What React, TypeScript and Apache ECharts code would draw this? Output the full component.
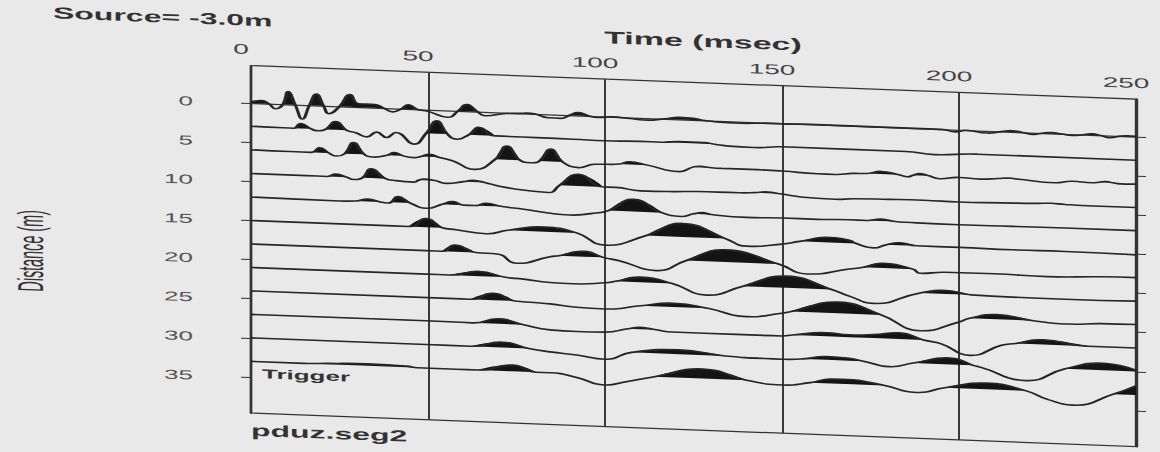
import React, { useEffect, useRef } from "react";
import * as echarts from "echarts";

// ---- data (time in msec, amplitude in metres of trace offset; + = up / filled) ----
const DISTANCES = [0, 3, 6, 9, 12, 15, 18, 21, 24, 27, 30, 33];
const Y_TICKS = [0, 5, 10, 15, 20, 25, 30, 35];
const X_MIN = 0;
const X_MAX = 250;
const X_STEP = 50;
const Y_MIN = -4.8;
const Y_MAX = 39.6;

const TRACE_0 = [[0,0.1],[3,0.38],[5,0],[7,-0.6],[9,0],[10.5,1.66],[12.5,0],[14.5,-1.79],[16.5,0],[18.5,1.49],[20.5,0],[22,-0.98],[25,0],[28,1.57],[30.5,0.45],[35,0.43],[37.5,0],[40,-0.43],[42.5,0],[44.5,0.55],[47,0],[50,-0.2],[55.5,-0.85],[58.5,0],[61,0.85],[64,0],[66,-0.47],[72,-0.1],[76,0],[78,0.06],[80,0],[84,-0.43],[87.5,-0.45],[90,0],[92.5,0.38],[95.5,0],[98,-0.15],[102,0],[107,-0.13],[111,-0.26],[117,0],[121,0.26],[125,0.2],[127.5,0],[131,-0.13],[138,-0.2],[146,-0.08],[150,-0.08],[158,0],[195,0],[199,-0.25],[202,0],[208,-0.25],[212,0],[215,0.17],[218,0],[221,-0.2],[223.5,0],[226,0.13],[229,0],[232,-0.15],[235,0],[237.5,0.17],[240,0],[242.5,-0.25],[245.5,0],[247.5,0.07],[250,0.05]];
const TRACE_1 = [[0,0.05],[9,0],[12,0],[14,0.64],[17,0],[18.5,-0.2],[21,0],[24,1.06],[27,0],[29.5,-0.26],[32.7,-0.75],[35.5,-0.1],[38.3,-0.74],[41,-0.05],[46,-1.45],[49.5,0],[52.5,1.63],[55.5,0],[58,-0.61],[61.5,0],[64.5,1.0],[69,0],[91,-0.05],[100,-0.1],[110,0],[116,0],[121,0.17],[128,0.16],[131,0],[135,-0.18],[142,-0.24],[150,0],[185,0],[193,-0.27],[205,0],[250,0]];
const TRACE_2 = [[0,0.05],[11,0],[17,0],[19.5,0.64],[22,0],[24,-0.34],[26.5,0],[29,1.45],[32,0],[34.5,-0.3],[38.5,0],[40.5,0.37],[43,0],[46,-0.18],[48,0],[50.5,0.33],[53,0],[57,-0.41],[63,-1.38],[69,0],[72.3,1.76],[76,0],[79,-0.26],[81.5,0],[84.7,1.6],[88,0],[92.5,-0.66],[97,-0.15],[100,-0.1],[104,0],[107,0.35],[112,0],[121,-0.68],[125,0],[127,0.1],[129.5,0],[133,-0.05],[141,-0.04],[150,-0.1],[160,-0.28],[165,-0.28],[170,-0.06],[174,0],[178,0.33],[183,0],[185.5,-0.23],[187,0],[189,0.25],[191.5,0],[194.5,-0.32],[200,-0.06],[206,-0.17],[211,0],[214,0.1],[217,0],[227,-0.28],[232,0],[237.5,-0.1],[239.5,0],[241.5,0.14],[243.5,0],[245.5,-0.1],[250,-0.05]];
const TRACE_3 = [[0,0],[15.7,0],[21.5,0],[24,0.34],[27,0],[29,-0.26],[31.5,0],[34,1.19],[38,0],[41,-0.2],[46,-0.3],[47.5,0],[49,0.13],[52,0],[55,-0.31],[60,0],[62.7,0.2],[66,0],[70.5,-0.44],[78.5,-0.86],[84,-0.98],[87.2,0],[92.5,1.5],[99.5,0],[103,0],[110,-0.32],[119,-0.26],[126,-0.13],[138,-0.09],[142,0],[146,0.16],[149,0],[152,-0.15],[157,-0.37],[165,-0.45],[170,-0.3],[180,-0.2],[190,-0.15],[200,-0.2],[212,-0.1],[222,0],[226,0.08],[230,0],[238,-0.05],[250,-0.05]];
const TRACE_4 = [[0,0],[25,-0.07],[29.5,0],[33,0.32],[36.5,0],[38.5,-0.1],[39.5,0],[41.5,0.77],[45,0],[49.5,-0.58],[54,0],[57,0.39],[60,0],[63.5,0],[66.5,0.34],[71,0],[77,-0.24],[84,-0.6],[90,-0.75],[96,-0.47],[101,0],[108,1.56],[116,0],[121.5,-0.4],[125,0],[127.5,0.2],[130,0],[140,-0.2],[150,-0.1],[160,-0.1],[169,0],[174,0],[178,0.25],[182,0],[185,-0.05],[200,-0.1],[215,-0.05],[230,0],[250,0]];
const TRACE_5 = [[0,0],[44.5,0],[49.5,1.1],[54,0],[58,-0.18],[66.5,-0.55],[72.5,0],[83,0.6],[92,0],[100,-1.43],[111.7,0],[122,1.72],[134,0],[140,-0.87],[150,-0.44],[155,0],[163.5,0.64],[169,0.38],[171,0],[175.8,-0.48],[179.5,0],[183.3,0.3],[188,0],[200,0],[215,-0.05],[230,0],[250,-0.1]];
const TRACE_6 = [[0,0],[49.5,0],[54,0],[57.7,0.87],[63.5,0],[69.5,-0.08],[75,-1.17],[84.5,-0.17],[87,0],[94,0.68],[99.5,0],[104,-0.35],[114.5,-1.43],[123,0],[134,1.55],[149,0],[157,-1.13],[169,-0.3],[173,0],[178.6,0.6],[187,0],[189,-0.5],[196,-0.25],[210,-0.2],[225,-0.3],[240,-0.06],[250,0]];
const TRACE_7 = [[0,0],[49.5,0],[56,0],[64.6,0.6],[71.5,0],[77,-0.17],[84.5,-0.47],[91,-0.52],[100,-0.24],[103,0],[110,0.66],[119,0],[128.7,-1.32],[139,0],[151.3,1.49],[164,0],[169,-0.75],[175.8,-1.57],[189,0],[196.5,0.43],[203.5,0],[215,-0.1],[230,-0.1],[250,0]];
const TRACE_8 = [[0,0],[62,0],[68.5,0.88],[74.5,0],[80,-0.1],[84.5,-0.2],[92,-0.5],[100,-0.58],[110,0],[119.3,0.48],[129,0],[140,-0.87],[150,-0.27],[152.6,0],[166,1.42],[178,0],[189,-1.83],[199.8,-0.57],[203,0],[210.7,0.6],[221,0],[231,-0.26],[240,-0.05],[250,0]];
const TRACE_9 = [[0,0],[49.5,0.05],[62.5,0],[70,0.64],[77,0],[84.5,-0.52],[92,-0.6],[100,-0.54],[106.5,0],[110,0.23],[114.5,0],[119,-0.2],[137,-0.2],[150,-0.18],[153,0],[162.6,0.45],[169,0.3],[176,0.45],[183,0.8],[190,0],[195,-0.4],[203,-1.74],[212,-0.3],[216,0],[223.8,0.6],[236,0],[250,0]];
const TRACE_10 = [[0,0],[49.5,0],[62,0],[71,0.67],[78.5,0],[84.5,-0.33],[92,-0.6],[100,-1.0],[107.5,0],[121,0.55],[134,0],[145,-0.14],[150,-0.14],[156,0],[162.6,0.41],[169,0.3],[173,0],[180.5,-0.57],[187,0],[197.5,0.83],[204,0],[206,-0.2],[219,-1.69],[230,0],[240.8,0.9],[250,0.15]];
const TRACE_11 = [[0,0],[15,0],[22,0.12],[33,0.25],[44,0.15],[47,0],[58,0],[64,0],[74,0.8],[80.5,0],[84.5,0],[92,-0.47],[100,-1.3],[106,-0.77],[114,0],[127.7,1.22],[140,0],[150,-0.44],[158,0],[164,0.55],[170,0.57],[175,0.3],[179,0],[188,-0.74],[196,0],[207.8,0.8],[219,0],[224.8,-0.95],[232.3,-1.6],[243.6,0],[250,1.18]];

const TRACES = [TRACE_0, TRACE_1, TRACE_2, TRACE_3, TRACE_4, TRACE_5, TRACE_6, TRACE_7, TRACE_8, TRACE_9, TRACE_10, TRACE_11];

const SOURCE_TEXT = "Source= -3.0m";
const X_TITLE = "Time (msec)";
const Y_TITLE = "Distance (m)";
const TRIGGER_TEXT = "Trigger";
const FILE_TEXT = "pduz.seg2";

// ---- page geometry (the scan is stretched horizontally and tilted) ----
const SX = 2;
const SKEW = 0.038;
const W = 1160 / SX;
const H = 452;
const FONT = '"Liberation Sans", Arial, Helvetica, sans-serif';

// fill only the positive lobes: keep points that are positive or touch a positive one
function fillData(tr: number[][], d: number) {
  return tr.map(([t, a], k) => {
    const prev = k > 0 ? tr[k - 1][1] : -1;
    const next = k < tr.length - 1 ? tr[k + 1][1] : -1;
    if (a > 0 || prev > 0 || next > 0) return [t, d - Math.max(a, 0)];
    return [t, null];
  });
}

export default function App() {
  const ref = useRef<HTMLDivElement>(null);

  useEffect(() => {
    if (!ref.current) return;
    const chart = echarts.init(ref.current, null, { renderer: "svg", width: W, height: H });

    const series: any[] = [];
    TRACES.forEach((tr, i) => {
      const d = DISTANCES[i];
      series.push({
        type: "line",
        data: fillData(tr, d),
        connectNulls: false,
        smooth: 0.5,
        symbol: "none",
        silent: true,
        lineStyle: { width: 0, opacity: 0 },
        areaStyle: { color: "#141414", opacity: 1, origin: d },
        z: 3,
      });
      series.push({
        type: "line",
        data: tr.map(([t, a]) => [t, d - a]),
        smooth: 0.5,
        symbol: "none",
        silent: true,
        lineStyle: { color: "#262626", width: 1.6 },
        z: 4,
      });
    });

    const yCommon = {
      type: "value",
      inverse: true,
      min: Y_MIN,
      max: Y_MAX,
      splitLine: { show: false },
      axisLine: { show: true, lineStyle: { color: "#333", width: 1.2 } },
      axisTick: { show: true, customValues: Y_TICKS, length: 5, lineStyle: { color: "#333", width: 1 } },
    };

    chart.setOption({
      animation: false,
      backgroundColor: "transparent",
      grid: {
        left: 125.5,
        right: 12,
        top: 65.5,
        bottom: 39,
        show: true,
        borderColor: "#333",
        borderWidth: 1.2,
      },
      xAxis: {
        type: "value",
        position: "top",
        min: X_MIN,
        max: X_MAX,
        interval: X_STEP,
        axisLine: { show: true, lineStyle: { color: "#333", width: 1.2 } },
        axisTick: { show: false },
        splitLine: { show: true, lineStyle: { color: "#3a3a3a", width: 1 } },
        axisLabel: { color: "#444", fontSize: 14, fontFamily: FONT, margin: 9, padding: [0, 10, 0, 0] },
      },
      yAxis: [
        {
          ...yCommon,
          position: "left",
          axisLabel: { customValues: Y_TICKS, margin: 29, color: "#555", fontSize: 13, fontFamily: FONT },
        },
        {
          ...yCommon,
          position: "right",
          axisLabel: { show: false },
        },
      ],
      graphic: [
        {
          type: "text",
          x: 26.5,
          y: 20,
          silent: true,
          style: { text: SOURCE_TEXT, fill: "#333", fontSize: 16, fontWeight: "bold", fontFamily: FONT, align: "left", verticalAlign: "middle" },
        },
        {
          type: "text",
          x: 351.5,
          y: 24,
          silent: true,
          style: { text: X_TITLE, fill: "#333", fontSize: 17, fontWeight: "bold", fontFamily: FONT, align: "center", verticalAlign: "middle" },
        },
        {
          type: "text",
          x: 15.5,
          y: 259,
          rotation: Math.PI / 2,
          scaleX: 0.8,
          silent: true,
          style: { text: Y_TITLE, fill: "#333", fontSize: 18, fontFamily: FONT, align: "center", verticalAlign: "middle" },
        },
        {
          type: "text",
          x: 131,
          y: 373,
          silent: true,
          style: { text: TRIGGER_TEXT, fill: "#333", fontSize: 13, fontWeight: "bold", fontFamily: FONT, align: "left", verticalAlign: "middle" },
        },
        {
          type: "text",
          x: 125.5,
          y: 430,
          silent: true,
          style: { text: FILE_TEXT, fill: "#333", fontSize: 16, fontWeight: "bold", fontFamily: FONT, align: "left", verticalAlign: "middle" },
        },
      ],
      series,
    });

    return () => chart.dispose();
  }, []);

  return (
    <div style={{ position: "fixed", left: 0, top: 0, width: 1160, height: 452, background: "#e9e9e9", overflow: "hidden" }}>
      <div
        ref={ref}
        style={{
          position: "absolute",
          left: 0,
          top: 0,
          width: W,
          height: H,
          transformOrigin: "0 0",
          transform: `matrix(${SX}, ${SKEW * SX}, 0, 1, 0, ${-SKEW * 250})`,
        }}
      />
    </div>
  );
}
